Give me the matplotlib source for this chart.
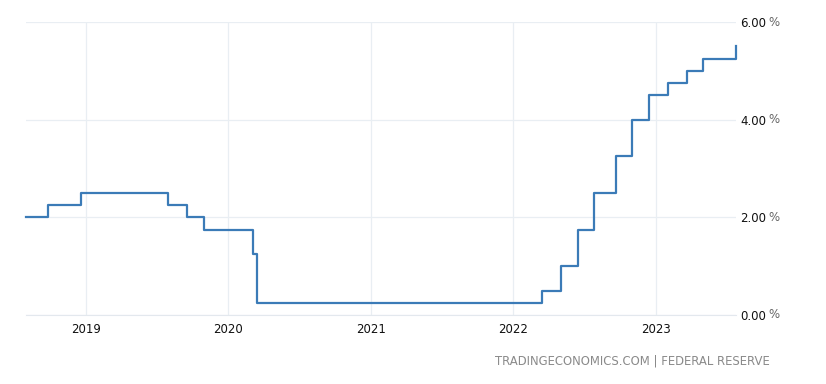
import matplotlib.pyplot as plt
import matplotlib.dates as mdates
import matplotlib.transforms as mtransforms
import pandas as pd

# Fed funds target rate (upper bound), change dates
dates = ['2018-07-31', '2018-09-26', '2018-12-19', '2019-07-31', '2019-09-18',
         '2019-10-30', '2020-03-03', '2020-03-15', '2022-03-16', '2022-05-04',
         '2022-06-15', '2022-07-27', '2022-09-21', '2022-11-02', '2022-12-14',
         '2023-02-01', '2023-03-22', '2023-05-03', '2023-07-26']
rates = [2.00, 2.25, 2.50, 2.25, 2.00,
         1.75, 1.25, 0.25, 0.50, 1.00,
         1.75, 2.50, 3.25, 4.00, 4.50,
         4.75, 5.00, 5.25, 5.50]
year_ticks = ['2019', '2020', '2021', '2022', '2023']
y_ticks = [0, 2, 4, 6]

x = pd.to_datetime(dates)

fig = plt.figure(figsize=(8.26, 3.84), dpi=100)
ax = fig.add_axes([26 / 826, 1 - 315 / 384, 710 / 826, 293 / 384])

ax.step(x, rates, where='post', color='#3b7bb7', linewidth=1.6, zorder=3,
        clip_on=False)

ax.set_xlim(pd.Timestamp('2018-07-31'), pd.Timestamp('2023-07-26'))
ax.set_ylim(0, 6)

ax.set_xticks(pd.to_datetime(year_ticks))
ax.xaxis.set_major_formatter(mdates.DateFormatter('%Y'))
ax.set_yticks(y_ticks)
ax.set_yticklabels([f'{v:.2f}' for v in y_ticks])
ax.yaxis.tick_right()

# percent signs in lighter grey next to the value labels
trans = mtransforms.blended_transform_factory(ax.transAxes, ax.transData)
for v in y_ticks:
    ax.text(1.0, v, '%', transform=trans + mtransforms.ScaledTranslation(32 / 100, 0, fig.dpi_scale_trans),
            ha='left', va='center', fontsize=8.5, color='#666666', clip_on=False)

ax.grid(True, color='#e9eef3', linewidth=0.9, zorder=0)
for s in ['top', 'right', 'left']:
    ax.spines[s].set_visible(False)
ax.spines['bottom'].set_color('#e3e8ee')
ax.tick_params(axis='both', length=0, labelsize=8.5, colors='#111111')
ax.tick_params(axis='x', pad=6)
ax.tick_params(axis='y', pad=3)

fig.text(770 / 826, 1 - 361 / 384, 'TRADINGECONOMICS.COM | FEDERAL RESERVE',
         ha='right', va='center', fontsize=8.4, color='#8a8a8a')

fig.savefig('out.png', dpi=100, facecolor='white')
